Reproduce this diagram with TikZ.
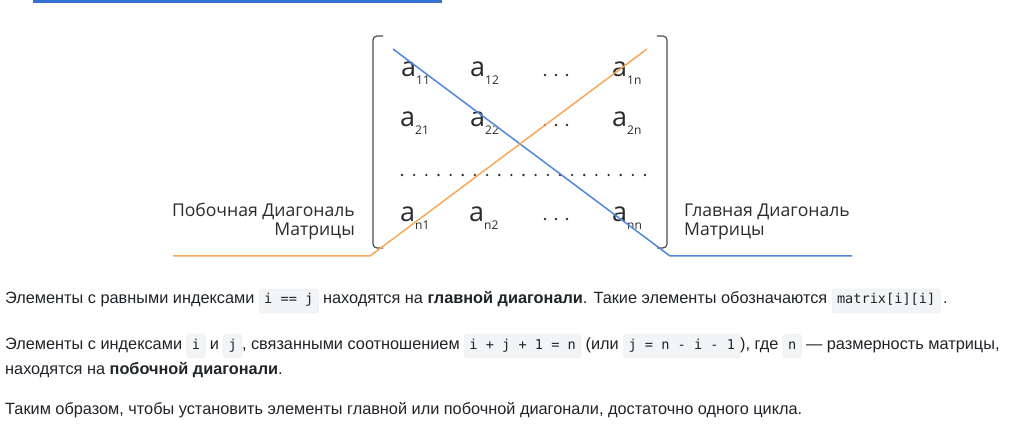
\documentclass[tikz,border=0pt]{standalone}
\usepackage{fontspec}
\setmainfont{Liberation Sans}
\setmonofont{DejaVu Sans Mono}
\newfontfamily\labelfont{Open Sans}
\usetikzlibrary{positioning}
\definecolor{cBar}{HTML}{3372D3}
\definecolor{cMain}{HTML}{5087DA}
\definecolor{cAnti}{HTML}{F6A85C}
\definecolor{cBracket}{HTML}{4D4D4D}
\definecolor{cText}{HTML}{1F2328}
\definecolor{cLabel}{HTML}{2B2B2B}
\definecolor{cCodeBg}{HTML}{F3F4F6}
\definecolor{cCodeLine}{HTML}{E6E8EB}
\newcommand{\code}[1]{\tikz[baseline=(cb.base)]\node[codebox] (cb) {#1};}
\newcommand{\elem}[1]{{\fontsize{27}{27}\labelfont a}\raisebox{-8pt}{\fontsize{12}{12}\labelfont #1}}

\begin{document}
\begin{tikzpicture}[
  x=1pt, y=-1pt,
  font=\fontsize{16.3}{19}\selectfont,
  bodytext/.style  = {anchor=base west, inner sep=0pt, text=cText},
  codebox/.style   = {fill=cCodeBg, draw=cCodeLine, rounded corners=3pt,
                      inner xsep=5pt, inner ysep=2pt, text height=13pt, text depth=7pt,
                      font=\ttfamily\fontsize{13.6}{16}\selectfont, text=cText},
  sidelabel/.style = {inner sep=0pt, font=\labelfont\fontsize{17.6}{20}\selectfont, text=cLabel},
  entry/.style     = {anchor=base west, inner sep=0pt, text=cLabel},
  bracket/.style   = {line width=1.2pt, draw=cBracket, rounded corners=4pt},
  diag/.style      = {line width=1.5pt}]

\useasboundingbox (0,0) rectangle (1031,430);

% ---- top bar -------------------------------------------------------------
\fill[cBar] (33,0) rectangle (442,3);

% ---- matrix brackets -----------------------------------------------------
\draw[bracket] (383,36) -- (373,36) -- (373,248) -- (383,248);
\draw[bracket] (657,36) -- (667,36) -- (667,248) -- (657,248);

% ---- matrix entries ------------------------------------------------------
\node[entry] (a11) at (401,77)  {\elem{11}};
\node[entry] (a12) at (470,77)  {\elem{12}};
\node[entry] (a1n) at (612,77)  {\elem{1n}};
\node[entry] (a21) at (400,127) {\elem{21}};
\node[entry] (a22) at (470,127) {\elem{22}};
\node[entry] (a2n) at (612,127) {\elem{2n}};
\node[entry] (an1) at (400,222) {\elem{n1}};
\node[entry] (an2) at (469,222) {\elem{n2}};
\node[entry] (ann) at (612,222) {\elem{nn}};

% dots
\foreach \r in {75,125,219}
  \foreach \x in {545,556,567}
    \fill[cLabel] (\x,\r) circle (1.3);
\foreach \i in {0,...,20}
  \fill[cLabel] ({402+\i*12.15},175) circle (1.3);

% ---- diagonals -----------------------------------------------------------
\coordinate (mainStart) at (393,49);
\coordinate (mainBend)  at (670,256);
\coordinate (mainEnd)   at (852,256);
\coordinate (antiStart) at (173,256);
\coordinate (antiBend)  at (370,256);
\coordinate (antiEnd)   at (647,49);
\draw[diag, cMain] (mainStart) -- (mainBend) -- (mainEnd);
\draw[diag, cAnti] (antiStart) -- (antiBend) -- (antiEnd);

% ---- side labels ---------------------------------------------------------
\node[sidelabel, anchor=base east] (antiLab1) at (355,217) {Побочная Диагональ};
\node[sidelabel, anchor=base east] (antiLab2) at (355,236) {Матрицы};
\node[sidelabel, anchor=base west] (mainLab1) at (684,217) {Главная Диагональ};
\node[sidelabel, anchor=base west] (mainLab2) at (684,236) {Матрицы};

% ---- text below ----------------------------------------------------------
\node[bodytext] (line1) at (5,304)
  {Элементы с равными индексами \code{i == j} находятся на \textbf{главной диагонали}. Такие элементы обозначаются \code{matrix[i][i]}\,.};
\node[bodytext] (line2) at (5,349)
  {Элементы с индексами \code{i} и \code{j}, связанными соотношением \code{i + j + 1 = n} (или \code{j = n - i - 1}), где \code{n} — размерность матрицы,};
\node[bodytext] (line3) at (5,374)
  {находятся на \textbf{побочной диагонали}.};
\node[bodytext] (line4) at (5,414)
  {Таким образом, чтобы установить элементы главной или побочной диагонали, достаточно одного цикла.};

\end{tikzpicture}
\end{document}
